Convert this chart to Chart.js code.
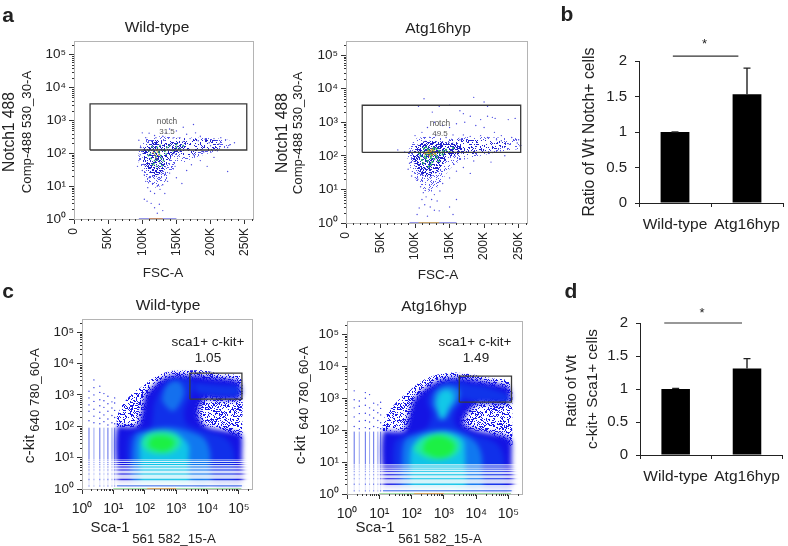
<!DOCTYPE html>
<html>
<head>
<meta charset="utf-8">
<title>Notch1 and c-kit Sca-1 flow cytometry</title>
<script src="https://cdn.jsdelivr.net/npm/chart.js@4/dist/chart.umd.js"></script>
<style>
  html, body { margin: 0; background: #fff; }
  #page { position: relative; width: 788px; height: 546px; overflow: hidden; font-family: "Liberation Sans", Arial, sans-serif; color: #222; }
  canvas { position: absolute; left: 0; top: 0; }
  .t { position: absolute; white-space: nowrap; line-height: 1; }
</style>
</head>
<body>
<div id="page"></div>
<script>
// bar values
const barCategories = ['Wild-type', 'Atg16hyp'];
const notchRatio = [1, 1.53];
const notchRatioTop = [1, 1.9];
const kitScaRatio = [1, 1.31];
const kitScaRatioTop = [1.01, 1.46];
const barTicks = [0, 0.5, 1, 1.5, 2];

// flow axes
const fscTicks = [0, 50, 100, 150, 200, 250];
const logTicks = [1, 10, 100, 1000, 10000, 100000];
const logMax = 262144;

// gates
const notchGateWt = [[23.5, 126], [253, 126], [253, 3200], [23.5, 3200], [23.5, 126]];
const notchGateAtg = [[23.5, 126], [253, 126], [253, 3200], [23.5, 3200], [23.5, 126]];
const kitGateWt = [[2750, 730], [125000, 730], [125000, 4950], [2750, 4950], [2750, 730]];
const kitGateAtg = [[3000, 750], [124000, 750], [124000, 4900], [3000, 4900], [3000, 750]];

// panel a, FSC (K) and Notch1
const wtCloud = [[95, 110], [98, 190], [108, 300], [125, 330], [150, 300], [175, 300], [200, 290], [225, 260], [232, 200], [215, 130], [190, 90], [170, 65], [150, 40], [140, 22], [130, 11], [120, 9], [108, 13], [100, 28], [94, 60]];
const wtArm = [[145, 105], [145, 270], [185, 270], [212, 240], [212, 140], [185, 110], [165, 85]];
const wtCore = [[100, 90], [104, 175], [118, 250], [145, 230], [158, 190], [160, 130], [145, 95], [138, 55], [130, 28], [118, 20], [106, 32], [101, 60]];
const wtSparse = [[95, 60], [93, 40], [97, 90], [98, 150], [100, 30], [103, 22], [105, 14], [108, 9], [112, 7], [115, 12], [118, 6], [122, 10], [126, 8], [130, 11], [133, 6], [125, 18], [137, 14], [110, 18], [103, 4], [107, 3.5], [118, 2.2], [125, 2.8], [130, 1.8], [122, 1.5], [113, 3], [140, 25], [150, 18], [158, 12], [148, 40], [165, 30], [172, 45], [185, 60], [195, 40], [225, 28], [175, 90], [205, 75], [190, 110], [210, 120], [225, 150], [235, 210], [222, 260], [215, 300], [205, 280], [198, 210], [192, 270], [185, 330], [178, 420], [175, 750], [160, 620], [150, 480], [140, 550], [135, 420], [118, 350], [110, 410], [100, 420], [105, 300], [95, 250], [165, 380], [155, 300], [170, 280], [182, 240], [200, 170], [212, 190], [228, 180], [160, 230], [145, 290], [130, 330], [120, 300]];
const wtGreen = [[112, 95], [116, 130], [120, 80], [124, 110], [118, 60], [128, 70], [122, 150], [130, 130], [126, 50], [115, 45], [135, 95], [145, 120], [150, 150], [155, 135], [110, 120], [125, 95], [119, 105], [113, 70], [117, 48], [121, 40], [127, 85], [131, 60], [114, 160], [126, 175], [136, 150], [140, 170], [150, 185], [160, 170], [109, 85], [133, 115], [122, 62], [129, 42]];
const wtHot = [[122, 110], [118, 90], [121, 125], [125, 130], [116, 105], [120, 72], [124, 88]];

const atgCloud = [[88, 100], [93, 190], [103, 340], [125, 370], [150, 320], [180, 370], [215, 350], [250, 320], [254, 170], [220, 130], [190, 95], [165, 70], [150, 40], [140, 20], [128, 9], [115, 9], [103, 17], [94, 40]];
const atgArm = [[150, 110], [150, 280], [185, 300], [225, 280], [235, 200], [205, 140], [175, 110]];
const atgCore = [[96, 90], [100, 190], [116, 280], [148, 250], [166, 225], [168, 120], [148, 92], [140, 55], [128, 28], [115, 24], [102, 42]];
const atgSparse = [[92, 60], [90, 40], [95, 25], [100, 30], [104, 20], [108, 12], [112, 8], [116, 6], [120, 10], [124, 5], [128, 7], [132, 4.5], [136, 9], [110, 5], [114, 3.5], [122, 3], [128, 2.4], [106, 2.8], [103, 1.8], [118, 1.6], [135, 2.3], [150, 3], [155, 1.8], [160, 5], [140, 15], [150, 22], [160, 35], [170, 45], [180, 30], [210, 65], [185, 70], [230, 100], [75, 150], [85, 130], [100, 400], [110, 500], [118, 700], [105, 3000], [113, 5000], [125, 2000], [135, 3000], [150, 3200], [165, 2200], [170, 1800], [180, 1500], [185, 5500], [200, 4000], [205, 3000], [195, 1200], [205, 1500], [212, 1400], [216, 1300], [235, 1200], [245, 1300], [160, 900], [150, 700], [172, 1000], [140, 800], [128, 1000], [188, 800], [200, 700], [215, 500], [225, 400], [240, 350], [250, 300], [252, 200], [248, 240], [235, 230], [225, 280], [218, 300], [205, 350], [195, 400], [180, 380], [170, 420], [165, 300], [155, 420], [145, 350], [130, 400]];
const atgGreen = [[108, 100], [112, 130], [116, 85], [120, 140], [124, 100], [128, 125], [132, 90], [118, 70], [125, 65], [113, 165], [127, 170], [135, 140], [140, 110], [110, 75], [122, 115], [117, 110], [130, 105], [145, 150], [155, 170], [123, 55], [114, 95], [119, 155], [126, 150], [131, 160], [136, 120], [141, 135], [150, 130], [112, 60], [120, 48], [128, 80], [134, 70], [106, 120], [116, 180], [123, 85]];
const atgHot = [[120, 120], [123, 135], [117, 125], [125, 110], [121, 100], [127, 145], [114, 118], [119, 140], [124, 155], [129, 115]];

// panel c density outlines, Sca-1 and c-kit
const wtBlue = [[13, 1.6], [13, 90], [30, 95], [60, 110], [75, 200], [85, 400], [100, 900], [150, 1500], [250, 2500], [500, 3800], [1000, 4400], [2000, 4200], [4000, 4300], [10000, 3800], [40000, 3300], [90000, 2800], [115000, 2000], [120000, 1000], [90000, 700], [20000, 700], [9000, 750], [6000, 500], [5000, 300], [6000, 150], [10000, 95], [30000, 75], [100000, 60], [125000, 50], [125000, 10], [125000, 1.6], [20000, 1.6], [1000, 1.6], [80, 1.6]];
const wtMid = [[30, 1.6], [30, 40], [60, 70], [150, 90], [180, 200], [200, 500], [300, 1300], [600, 3000], [1300, 3300], [3000, 3000], [3500, 1600], [2500, 700], [1800, 300], [2200, 120], [8000, 70], [40000, 40], [70000, 15], [70000, 5], [70000, 1.6], [5000, 1.6], [300, 1.6]];
const wtLobe = [[4000, 2500], [12000, 2200], [40000, 2000], [100000, 1800], [100000, 1000], [50000, 900], [10000, 1000], [4500, 1200]];
const wtLightUp = [[350, 700], [450, 1700], [800, 2700], [1400, 2400], [1800, 1200], [1300, 500], [800, 300], [500, 400]];
const wtLightLow = [[40, 1.6], [40, 10], [50, 50], [100, 70], [300, 90], [900, 90], [2500, 70], [8000, 40], [12000, 15], [12000, 5], [12000, 1.6], [1500, 1.6], [200, 1.6]];
const wtCyan = [[70, 1.6], [70, 8], [70, 30], [100, 55], [300, 70], [800, 65], [1500, 45], [2500, 25], [2500, 10], [2500, 4], [2500, 1.6], [800, 1.6], [200, 1.6]];
const wtTeal = [[75, 30], [110, 55], [300, 72], [800, 62], [1400, 35], [1000, 17], [300, 13], [110, 17]];
const wtLime = [[130, 22], [160, 42], [300, 50], [600, 45], [900, 32], [700, 20], [350, 16]];
const wtFringe = [[13, 95], [13, 200], [20, 500], [40, 1100], [80, 1800], [150, 3000], [300, 4500], [700, 5800], [2000, 6000], [8000, 6000], [30000, 4600], [100000, 4200], [130000, 2500], [130000, 100], [125000, 40], [20000, 90], [100, 90]];

const atgBlue = [[13, 1.6], [13, 85], [30, 90], [60, 100], [75, 200], [90, 400], [110, 800], [170, 1400], [300, 2200], [600, 3400], [1500, 4300], [4000, 4400], [10000, 3700], [40000, 2900], [100000, 2300], [115000, 1500], [115000, 800], [60000, 650], [20000, 700], [10000, 650], [6000, 400], [4000, 180], [6000, 120], [15000, 90], [60000, 70], [110000, 55], [125000, 45], [125000, 10], [125000, 1.6], [20000, 1.6], [1000, 1.6], [80, 1.6]];
const atgMid = [[30, 1.6], [30, 40], [70, 70], [200, 95], [350, 150], [400, 350], [300, 800], [450, 1800], [900, 3000], [2000, 3400], [5000, 2800], [5000, 1500], [3500, 700], [2200, 350], [2200, 150], [6000, 80], [40000, 40], [70000, 15], [70000, 5], [70000, 1.6], [5000, 1.6], [300, 1.6]];
const atgLobe = [[3500, 2800], [15000, 2400], [60000, 1600], [100000, 1200], [100000, 800], [30000, 800], [6000, 850], [3500, 1300]];
const atgLightUp = [[450, 600], [500, 1400], [800, 2200], [1500, 2500], [3000, 1800], [2800, 900], [1700, 450], [1100, 220], [700, 220], [600, 350]];
const atgLightLow = [[50, 1.6], [50, 10], [60, 45], [120, 70], [400, 95], [1500, 100], [4000, 75], [10000, 40], [15000, 15], [15000, 5], [15000, 1.6], [2000, 1.6], [250, 1.6]];
const atgCyanUp = [[600, 550], [620, 1000], [900, 1700], [1600, 1700], [2000, 1000], [1400, 500], [1000, 250], [800, 250]];
const atgCyan = [[90, 1.6], [90, 8], [100, 30], [180, 58], [500, 85], [1500, 85], [4000, 50], [4500, 20], [4500, 8], [4500, 1.6], [1500, 1.6], [300, 1.6]];
const atgTeal = [[110, 25], [200, 55], [600, 80], [1500, 72], [3000, 40], [2500, 18], [800, 12], [250, 14]];
const atgLime = [[220, 22], [280, 45], [600, 65], [1300, 55], [2200, 32], [1500, 17], [600, 14]];
const atgFringe = [[13, 90], [13, 200], [20, 400], [40, 900], [80, 1600], [150, 2800], [300, 4300], [700, 5600], [2000, 6400], [8000, 5500], [30000, 4200], [100000, 3600], [130000, 2000], [130000, 100], [125000, 30], [20000, 90], [100, 90]];

// discrete channel values at the low end
const scaColumns = [1.67, 2.4, 3.7, 5, 6.7, 9, 11];
const kitGaps = [[1.3, 1.9], [2.12, 2.88], [3.12, 3.88], [4.15, 4.85], [5.18, 5.82], [6.22, 6.78], [7.26, 7.74], [8.3, 8.7]];
const wtColumnDots = [[1.67, 150], [1.67, 300], [1.67, 480], [1.67, 800], [1.67, 1300], [2.4, 130], [2.4, 210], [2.4, 350], [2.4, 620], [2.4, 1000], [2.4, 1700], [2.4, 3000], [3.7, 120], [3.7, 180], [3.7, 280], [3.7, 450], [3.7, 700], [3.7, 1200], [3.7, 1900], [5, 140], [5, 230], [5, 400], [5, 650], [5, 1100], [6.7, 110], [6.7, 170], [6.7, 300], [6.7, 520], [6.7, 900], [9, 130], [9, 220], [9, 380], [9, 600], [11, 120], [11, 190], [11, 320], [11, 550], [11, 800]];
const atgColumnDots = [[1.67, 130], [1.67, 260], [1.67, 500], [1.67, 900], [1.67, 1700], [2.4, 110], [2.4, 190], [2.4, 330], [2.4, 560], [2.4, 820], [3.7, 120], [3.7, 200], [3.7, 340], [3.7, 600], [3.7, 1000], [3.7, 1500], [5, 110], [5, 180], [5, 300], [5, 500], [5, 1300], [6.7, 130], [6.7, 240], [6.7, 420], [6.7, 700], [9, 120], [9, 200], [9, 350], [9, 620], [11, 110], [11, 170], [11, 300], [11, 480], [11, 750]];

// text that is not a tick label: text, centre x, centre y, size, rotation, weight, colour
const pageText = [
  ['a', 8, 14, 21, 0, 'bold'], ['b', 567, 13, 21, 0, 'bold'], ['c', 8, 290, 21, 0, 'bold'], ['d', 571, 290, 21, 0, 'bold'],
  ['Wild-type', 157, 27, 15.5], ['Atg16hyp', 438, 28, 15.5], ['Wild-type', 168, 305, 15.5], ['Atg16hyp', 434, 306, 15.5],
  ['Notch1 488', 9, 132, 15.6, -90], ['Comp-488 530_30-A', 27, 132, 13.2, -90],
  ['Notch1 488', 282, 133, 15.6, -90], ['Comp-488 530_30-A', 298, 133, 13.2, -90],
  ['FSC-A', 163, 273, 13.5], ['FSC-A', 438, 275, 13.5],
  ['notch', 167, 121, 8.4, 0, 'normal', '#555'], ['31.5', 167, 132, 8, 0, 'normal', '#555'],
  ['notch', 440, 123, 8.4, 0, 'normal', '#555'], ['49.5', 440, 134, 8, 0, 'normal', '#555'],
  ['c-kit', 29, 449, 15.5, -90], ['640 780_60-A', 35, 390, 13.3, -90],
  ['c-kit', 300, 450, 15.5, -90], ['640 780_60-A', 304, 388, 13.3, -90],
  ['Sca-1', 110, 526, 15], ['561 582_15-A', 174, 539, 13.3],
  ['Sca-1', 375, 526, 15], ['561 582_15-A', 440, 539, 13.3],
  ['sca1+ c-kit+', 208, 342, 13.5], ['1.05', 208, 358, 13.5],
  ['sca1+ c-kit+', 475, 342, 13.5], ['1.49', 476, 358, 13.5],
  ['Ratio of Wt Notch+ cells', 589, 132, 15.8, -90],
  ['Ratio of Wt', 571, 391, 14.6, -90], ['c-kit+ Sca1+ cells', 592, 389, 15.3, -90]
];

const FONT = '"Liberation Sans", Arial, sans-serif';
const page = document.getElementById('page');
const SUP = { 0: '\u2070', 1: '\u00b9', 2: '\u00b2', 3: '\u00b3', 4: '\u2074', 5: '\u2075' };
const AXIS_W = 45;
const AXIS_H = 40;

function addCanvas(blur) {
  const c = document.createElement('canvas');
  c.width = 788;
  c.height = 546;
  if (blur) c.style.filter = 'blur(' + blur + 'px)';
  page.appendChild(c);
  return c;
}

// speckle tile for sparse event clouds
function dither(color, percent) {
  const tile = document.createElement('canvas');
  tile.width = 64;
  tile.height = 64;
  const g = tile.getContext('2d');
  g.fillStyle = color;
  for (let i = 0; i < 64; i++) {
    for (let j = 0; j < 64; j++) {
      let h = (Math.imul(i + 1, 374761393) + Math.imul(j + 1, 668265263)) | 0;
      h = Math.imul(h ^ (h >>> 13), 1274126177);
      if (((h ^ (h >>> 16)) >>> 0) % 100 < percent) g.fillRect(i, j, 1, 1);
    }
  }
  return g.createPattern(tile, 'repeat');
}

const toXY = pts => pts.map(([x, y]) => ({ x, y }));
const shape = (pts, color, tension = 0.35) => ({ data: toXY([...pts, pts[0]]), showLine: true, fill: 'shape', backgroundColor: color, borderWidth: 0, pointRadius: 0, tension });
const dots = (pts, color, r) => ({ data: toXY(pts), showLine: false, pointRadius: r, pointBackgroundColor: color, pointBorderWidth: 0 });
const path = (pts, color, w) => ({ data: toXY(pts), showLine: true, fill: false, borderColor: color, borderWidth: w, pointRadius: 0 });
const band = ([a, b]) => shape([[1.05, a], [logMax, a], [logMax, b], [1.05, b]], 'rgba(255,255,255,0.82)', 0);

function logMinors() {
  const out = [];
  for (let d = 1; d <= 100000; d *= 10) for (let m = 2; m <= 9; m++) if (d * m < logMax) out.push(d * m);
  return out;
}
function linMinors() {
  const out = [];
  for (let v = 10; v <= 260; v += 10) if (v % 50) out.push(v);
  return out;
}

const framePlugin = {
  id: 'frame',
  afterDraw(chart) {
    const { ctx, chartArea: a, scales } = chart;
    ctx.save();
    ctx.strokeStyle = '#b4b4b4';
    ctx.lineWidth = 1;
    ctx.strokeRect(a.left + 0.5, a.top + 0.5, a.right - a.left, a.bottom - a.top);
    ctx.strokeStyle = '#333';
    const o = chart.options.plugins.frame;
    o.x.forEach(v => {
      const p = Math.round(scales.x.getPixelForValue(v)) + 0.5;
      ctx.beginPath(); ctx.moveTo(p, a.bottom); ctx.lineTo(p, a.bottom + 2); ctx.stroke();
    });
    logMinors().forEach(v => {
      const p = Math.round(scales.y.getPixelForValue(v)) + 0.5;
      ctx.beginPath(); ctx.moveTo(a.left - 2, p); ctx.lineTo(a.left, p); ctx.stroke();
    });
    ctx.restore();
  }
};

const errorPlugin = {
  id: 'errs',
  afterDatasetsDraw(chart) {
    const { ctx, scales: { x, y } } = chart;
    const o = chart.options.plugins.errs;
    ctx.save();
    ctx.strokeStyle = '#222';
    ctx.lineWidth = 1.4;
    o.tops.forEach((top, i) => {
      const px = x.getPixelForValue(i);
      ctx.beginPath();
      ctx.moveTo(px, y.getPixelForValue(o.values[i]));
      ctx.lineTo(px, y.getPixelForValue(top));
      ctx.moveTo(px - 3.5, y.getPixelForValue(top));
      ctx.lineTo(px + 3.5, y.getPixelForValue(top));
      ctx.stroke();
    });
    // significance bar
    const sy = y.getPixelForValue(o.sigY);
    ctx.strokeStyle = '#333';
    ctx.lineWidth = 1.2;
    ctx.beginPath();
    ctx.moveTo(x.getPixelForValue(o.sigFrom), sy);
    ctx.lineTo(x.getPixelForValue(o.sigTo), sy);
    ctx.stroke();
    ctx.fillStyle = '#222';
    ctx.font = '13px ' + FONT;
    ctx.textAlign = 'center';
    ctx.textBaseline = 'middle';
    ctx.fillText('*', (x.getPixelForValue(o.sigFrom) + x.getPixelForValue(o.sigTo)) / 2 - 1, sy - o.starGap);
    ctx.restore();
  }
};

// full page canvas, plot area pinned by padding around fixed axis boxes
const pin = a => ({ left: a.l - AXIS_W, top: a.t, right: 788 - a.r, bottom: 546 - a.b - AXIS_H });
const fixedFit = axis => {
  if (axis.isHorizontal()) axis.height = AXIS_H;
  else axis.width = AXIS_W;
};

function yLogScale(size) {
  return {
    type: 'logarithmic', min: 1, max: logMax, afterFit: fixedFit,
    afterBuildTicks: axis => { axis.ticks = logTicks.map(value => ({ value })); },
    border: { display: false },
    grid: { drawOnChartArea: false, tickLength: 5, tickColor: '#333' },
    ticks: { autoSkip: false, padding: 3, color: '#222', font: { family: FONT, size }, callback: v => '10' + SUP[Math.round(Math.log10(v))] }
  };
}

function flowChart(area, datasets, xScale, minors) {
  return new Chart(addCanvas(0.35), {
    type: 'scatter',
    data: { datasets: datasets.slice().reverse() },
    options: {
      responsive: false, animation: false, layout: { padding: pin(area) },
      scales: { x: xScale, y: yLogScale(13.5) },
      plugins: { legend: { display: false }, tooltip: { enabled: false }, frame: { x: minors } }
    },
    plugins: [framePlugin]
  });
}

function fscChart(area, layers) {
  const x = {
    type: 'linear', min: 0, max: 262.144, afterFit: fixedFit,
    afterBuildTicks: axis => { axis.ticks = fscTicks.map(value => ({ value })); },
    border: { display: false },
    grid: { drawOnChartArea: false, tickLength: 5, tickColor: '#333' },
    ticks: { autoSkip: false, minRotation: 90, maxRotation: 90, padding: 4, color: '#222', font: { family: FONT, size: 12 }, callback: v => (v ? v + 'K' : '0') }
  };
  flowChart(area, layers, x, linMinors());
}

// axis-less layer lying under the sharp chart
function plainLayer(area, datasets, blur) {
  const axis = { type: 'logarithmic', min: 1, max: logMax, display: false };
  new Chart(addCanvas(blur), {
    type: 'scatter',
    data: { datasets: datasets.slice().reverse() },
    options: {
      responsive: false, animation: false,
      layout: { padding: { left: area.l, top: area.t, right: 788 - area.r, bottom: 546 - area.b } },
      scales: { x: axis, y: axis },
      plugins: { legend: { display: false }, tooltip: { enabled: false } }
    }
  });
}

function scaChart(area, layers) {
  const x = yLogScale(13.5);
  x.ticks = { autoSkip: false, maxRotation: 0, padding: 7, color: '#222', font: { family: FONT, size: 14 }, callback: v => '10' + SUP[Math.round(Math.log10(v))] };
  flowChart(area, layers, x, logMinors());
}

function lowEnd(columnDots, gate) {
  return [
    ...scaColumns.map((x, i) => path([[x, 1.2], [x, 90]], i % 2 ? 'rgba(90,110,235,0.6)' : 'rgba(40,60,225,0.75)', 1)),
    dots(columnDots, '#3038e0', 0.7),
    ...kitGaps.map(band),
    path([[13, 1.26], [125000, 1.26]], '#3a6ae8', 1),
    path([[1.03, 1.2], [1.03, 100]], 'rgba(120,210,190,0.7)', 1),
    path([[10, 1.02], [120000, 1.02]], 'rgba(130,215,130,0.9)', 1),
    path([[120, 1.02], [1000, 1.02]], 'rgba(235,150,70,0.9)', 1),
    path(gate, '#3a3a3a', 1.3)
  ];
}

function barChart(area, values, tops, sig) {
  new Chart(addCanvas(), {
    type: 'bar',
    data: { labels: barCategories, datasets: [{ data: values, backgroundColor: '#000', barPercentage: 0.4, categoryPercentage: 1 }] },
    options: {
      responsive: false, animation: false, layout: { padding: pin(area) },
      scales: {
        x: {
          afterFit: fixedFit,
          border: { color: '#222', width: 1 },
          grid: { drawOnChartArea: false, tickLength: 4, tickColor: '#222' },
          ticks: { padding: 8, color: '#222', font: { family: FONT, size: 15.5 }, maxRotation: 0, autoSkip: false }
        },
        y: {
          min: 0, max: 2, afterFit: fixedFit,
          afterBuildTicks: axis => { axis.ticks = barTicks.map(value => ({ value })); },
          border: { color: '#222', width: 1 },
          grid: { drawOnChartArea: false, tickLength: 4, tickColor: '#222' },
          ticks: { padding: 8, color: '#222', font: { family: FONT, size: 15 }, callback: v => String(v) }
        }
      },
      plugins: { legend: { display: false }, tooltip: { enabled: false }, errs: { values, tops, ...sig } }
    },
    plugins: [errorPlugin]
  });
}

// panel a
fscChart({ l: 74, t: 41, r: 253, b: 219 }, [
  shape(wtCloud, dither('#5a5aea', 20), 0.2),
  shape(wtArm, dither('#2424d0', 22), 0.2),
  shape(wtCore, dither('#2020cc', 38), 0.2),
  dots(wtSparse, '#4a4ae0', 0.7),
  dots(wtGreen, '#28a868', 0.9),
  dots(wtHot, '#e0a030', 0.8),
  path([[95, 1.02], [150, 1.02]], 'rgba(90,90,220,0.8)', 1),
  path([[110, 1.02], [130, 1.02]], 'rgba(220,140,60,0.9)', 1),
  path(notchGateWt, '#3a3a3a', 1.3)
]);
fscChart({ l: 346, t: 41, r: 527, b: 223 }, [
  shape(atgCloud, dither('#5a5aea', 20), 0.2),
  shape(atgArm, dither('#2424d0', 20), 0.2),
  shape(atgCore, dither('#2020cc', 48), 0.2),
  dots(atgSparse, '#4a4ae0', 0.7),
  dots(atgGreen, '#20b060', 1.1),
  dots(atgHot, '#e8b020', 1),
  path([[92, 1.02], [160, 1.02]], 'rgba(90,90,220,0.8)', 1),
  path([[105, 1.02], [135, 1.02]], 'rgba(220,170,60,0.9)', 1),
  path(notchGateAtg, '#3a3a3a', 1.3)
]);

// panel c
const areaCWt = { l: 82, t: 319, r: 252, b: 489 };
plainLayer(areaCWt, [shape(wtFringe, dither('#1a1ae6', 34), 0.2)]);
plainLayer(areaCWt, [
  [wtBlue, '#1414e4'], [wtMid, '#1030ea'], [wtLobe, '#1034ea'], [wtLightUp, '#1470ee'], [wtLightLow, '#1078f0'],
  [wtCyan, '#10c4e8'], [wtTeal, '#20e8a4'], [wtLime, '#1cf044']
].map(([pts, color]) => shape(pts, color)), 2.6);
scaChart(areaCWt, lowEnd(wtColumnDots, kitGateWt));

const areaCAtg = { l: 347, t: 321, r: 522, b: 494 };
plainLayer(areaCAtg, [shape(atgFringe, dither('#1a1ae6', 34), 0.2)]);
plainLayer(areaCAtg, [
  [atgBlue, '#1414e4'], [atgMid, '#1030ea'], [atgLobe, '#1034ea'], [atgLightUp, '#1480ee'], [atgLightLow, '#1078f0'],
  [atgCyanUp, '#12c8e8'], [atgCyan, '#10c4e8'], [atgTeal, '#20e8a4'], [atgLime, '#1cf044']
].map(([pts, color]) => shape(pts, color)), 2.6);
scaChart(areaCAtg, lowEnd(atgColumnDots, kitGateAtg));

// panels b and d
barChart({ l: 639, t: 61, r: 787, b: 203 }, notchRatio, notchRatioTop, { sigFrom: -0.03, sigTo: 0.88, sigY: 2.07, starGap: 12 });
barChart({ l: 640, t: 323, r: 787, b: 455 }, kitScaRatio, kitScaRatioTop, { sigFrom: -0.16, sigTo: 0.93, sigY: 2, starGap: 10 });

pageText.forEach(([text, x, y, size, rot = 0, weight = 'normal', color = '#222']) => {
  const el = document.createElement('div');
  el.className = 't';
  el.textContent = text;
  el.style.left = x + 'px';
  el.style.top = y + 'px';
  el.style.fontSize = size + 'px';
  el.style.fontWeight = weight;
  el.style.color = color;
  el.style.transform = 'translate(-50%,-50%) rotate(' + rot + 'deg)';
  page.appendChild(el);
});
</script>
</body>
</html>
